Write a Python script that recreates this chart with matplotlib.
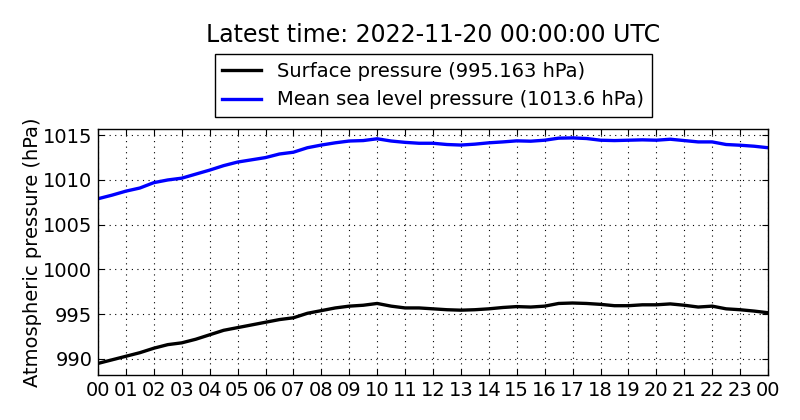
#! /usr/bin/env python3

import matplotlib
matplotlib.use('Agg')
import matplotlib.pyplot as plt
import numpy as np

# half-hourly readings, 00 UTC to 00 UTC next day
hours = np.arange(0, 24.5, 0.5)

surface = [989.5, 989.9, 990.3, 990.7, 991.2, 991.6, 991.8, 992.2, 992.7, 993.2,
           993.5, 993.8, 994.1, 994.4, 994.6, 995.1, 995.4, 995.7, 995.9, 996.0,
           996.2, 995.9, 995.7, 995.7, 995.6, 995.5, 995.45, 995.5, 995.6, 995.75,
           995.85, 995.8, 995.9, 996.2, 996.25, 996.2, 996.1, 995.95, 995.95, 996.05,
           996.05, 996.15, 996.0, 995.8, 995.9, 995.6, 995.5, 995.35, 995.163]

mslp = [1007.9, 1008.3, 1008.75, 1009.1, 1009.7, 1010.0, 1010.2, 1010.65, 1011.1, 1011.6,
        1012.0, 1012.25, 1012.5, 1012.9, 1013.1, 1013.6, 1013.9, 1014.15, 1014.35, 1014.4,
        1014.6, 1014.35, 1014.2, 1014.1, 1014.1, 1013.96, 1013.9, 1014.0, 1014.15, 1014.25,
        1014.37, 1014.33, 1014.44, 1014.67, 1014.7, 1014.63, 1014.44, 1014.4, 1014.44, 1014.48,
        1014.44, 1014.55, 1014.4, 1014.25, 1014.25, 1013.96, 1013.88, 1013.77, 1013.6]

hourTicks = list(range(25))
hourLabels = ['%02d' % (h % 24) for h in hourTicks]
pressTicks = [990, 995, 1000, 1005, 1010, 1015]

fig = plt.figure(figsize=(8, 4.2), dpi=100, facecolor='white')
ax = fig.add_axes([0.1225, 0.107, 0.8375, 0.586])

ax.plot(hours, surface, color='black', lw=2.4,
        label='Surface pressure (%.3f hPa)' % surface[-1])
ax.plot(hours, mslp, color='blue', lw=2.4,
        label='Mean sea level pressure (%.1f hPa)' % mslp[-1])

ax.set_xlim(0, 24)
ax.set_ylim(988.2, 1015.7)
ax.set_xticks(hourTicks)
ax.set_xticklabels(hourLabels)
ax.set_yticks(pressTicks)
ax.tick_params(direction='in', top=True, right=True, labelsize=14, length=4, pad=4)
ax.grid(True, color='black', linestyle=(0, (1, 4)), lw=0.8)
ax.set_ylabel('Atmospheric pressure (hPa)', fontsize=14, labelpad=1)
for sp in ax.spines.values():
    sp.set_linewidth(1)

leg = ax.legend(loc='lower center', bbox_to_anchor=(0.5, 1.048), fontsize=14,
                fancybox=False, handlelength=2, borderaxespad=0, framealpha=1)
leg.get_frame().set_edgecolor('black')

fig.text(0.541, 0.917, 'Latest time: 2022-11-20 00:00:00 UTC', ha='center', va='center', fontsize=17)

plt.savefig('out.png', dpi=100, facecolor='white')
